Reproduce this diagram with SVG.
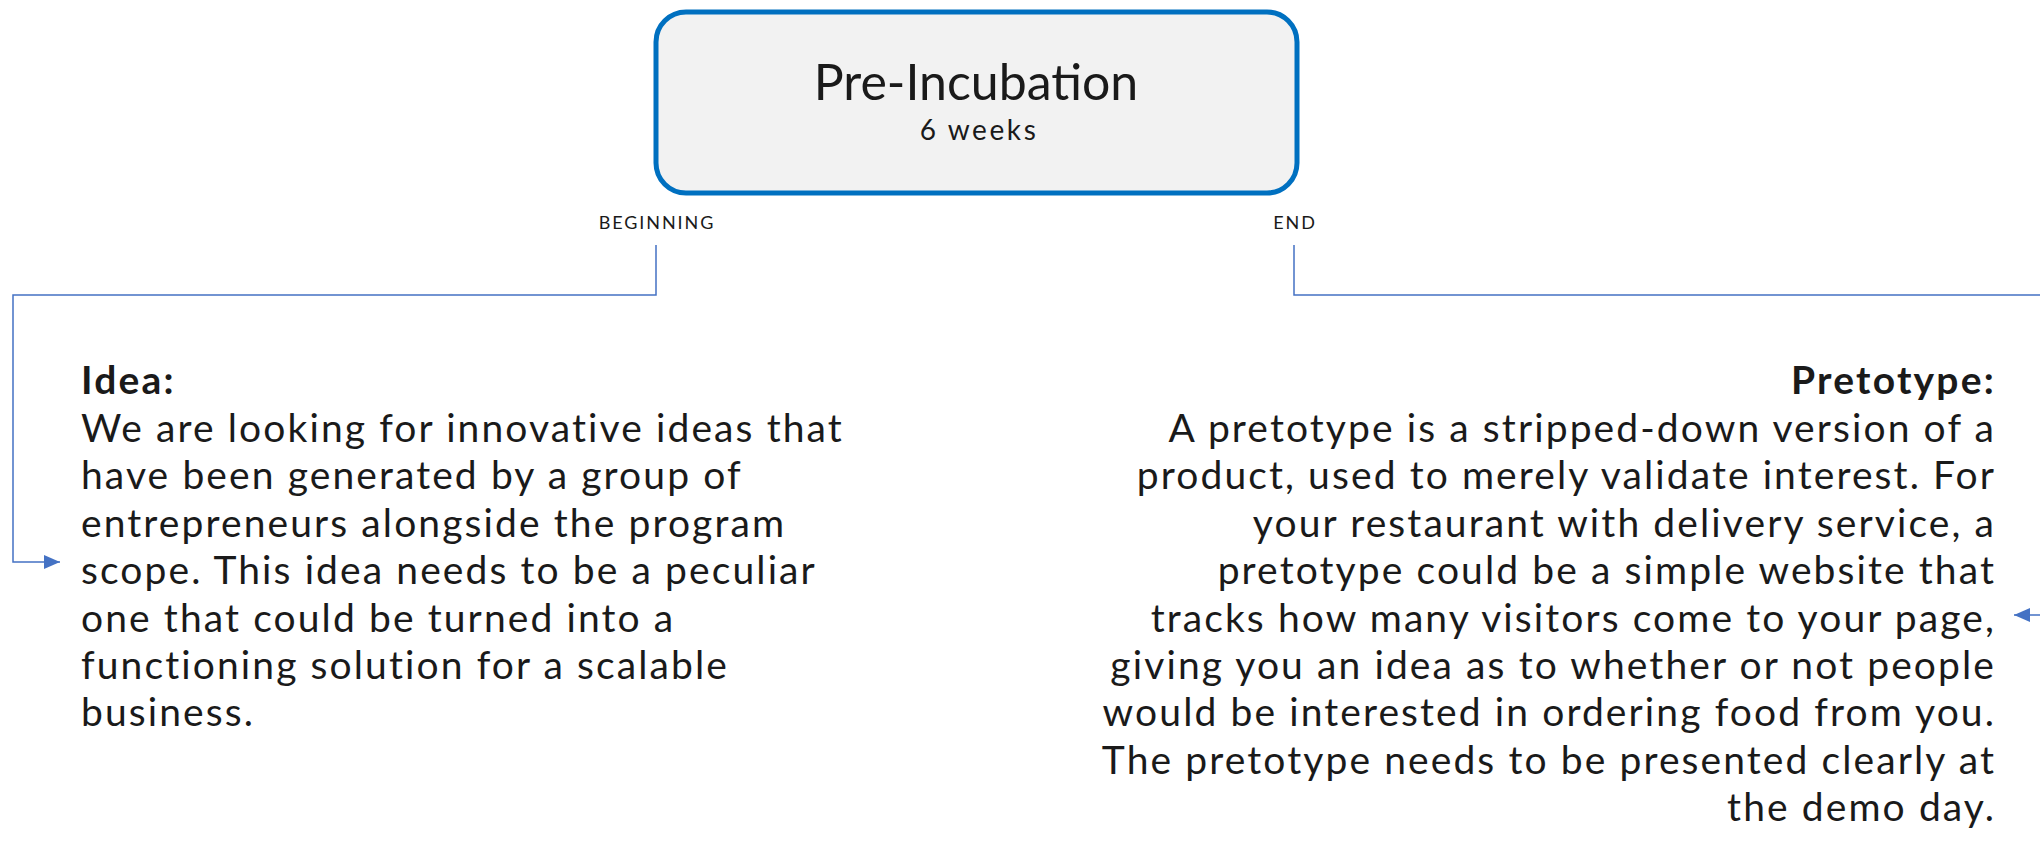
<svg xmlns="http://www.w3.org/2000/svg" width="2040" height="858" viewBox="0 0 2040 858">
  <style>
    .t { font-family: Lato, "Open Sans", "Liberation Sans", sans-serif; fill: #1a1a1a; }
    .title { font-size: 50px; text-anchor: middle; }
    .sub { font-size: 28px; letter-spacing: 2.6px; text-anchor: middle; }
    .tag { font-size: 18px; letter-spacing: 1.9px; text-anchor: middle; }
    .body { font-size: 39px; letter-spacing: 2.1px; }
    .head { font-size: 39px; letter-spacing: 2.2px; font-weight: bold; }
    .r { text-anchor: end; }
    .wire { fill: none; stroke: #4472c4; stroke-width: 1.5; }
  </style>
  <defs>
    <marker id="arrow" viewBox="0 0 16 14" refX="16" refY="7" markerWidth="16" markerHeight="14" markerUnits="userSpaceOnUse" orient="auto">
      <path d="M0,0 L16,7 L0,14 Z" fill="#4472c4"/>
    </marker>
  </defs>

  <!-- central phase box -->
  <g id="phase">
    <rect x="656" y="12" width="641" height="181" rx="30" ry="30" fill="#f2f2f2" stroke="#0070c0" stroke-width="5"/>
    <text class="t title" x="976" y="100">Pre-Incubation</text>
    <text class="t sub" x="979" y="140">6 weeks</text>
  </g>

  <!-- connectors -->
  <g id="connectors">
    <path class="wire" d="M656,245 V295 H13 V562 H60" marker-end="url(#arrow)"/>
    <path class="wire" d="M1294,245 V295 H2045 M2045,615 H2014" marker-end="url(#arrow)"/>
    <text class="t tag" x="657" y="229">BEGINNING</text>
    <text class="t tag" x="1295" y="229">END</text>
  </g>

  <!-- start of phase -->
  <g id="idea">
    <text class="t head" x="81" y="394">Idea:</text>
    <text class="t body" x="81" y="442">We are looking for innovative ideas that</text>
    <text class="t body" x="81" y="489">have been generated by a group of</text>
    <text class="t body" x="81" y="537">entrepreneurs alongside the program</text>
    <text class="t body" x="81" y="584">scope. This idea needs to be a peculiar</text>
    <text class="t body" x="81" y="632">one that could be turned into a</text>
    <text class="t body" x="81" y="679">functioning solution for a scalable</text>
    <text class="t body" x="81" y="726">business.</text>
  </g>

  <!-- end of phase -->
  <g id="pretotype">
    <text class="t head r" x="1996" y="394">Pretotype:</text>
    <text class="t body r" x="1996" y="442">A pretotype is a stripped-down version of a</text>
    <text class="t body r" x="1996" y="489">product, used to merely validate interest. For</text>
    <text class="t body r" x="1996" y="537">your restaurant with delivery service, a</text>
    <text class="t body r" x="1996" y="584">pretotype could be a simple website that</text>
    <text class="t body r" x="1996" y="632">tracks how many visitors come to your page,</text>
    <text class="t body r" x="1996" y="679">giving you an idea as to whether or not people</text>
    <text class="t body r" x="1996" y="726">would be interested in ordering food from you.</text>
    <text class="t body r" x="1996" y="774">The pretotype needs to be presented clearly at</text>
    <text class="t body r" x="1996" y="821">the demo day.</text>
  </g>
</svg>
